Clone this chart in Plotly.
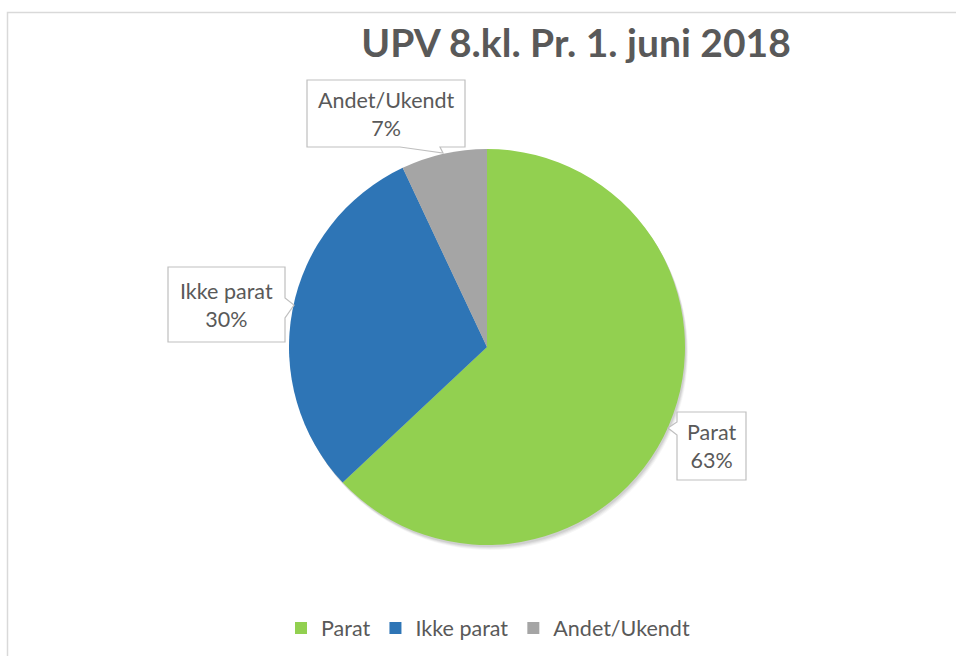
import plotly.graph_objects as go

W, H = 956, 656

categories = ["Parat", "Ikke parat", "Andet/Ukendt"]
values = [63, 30, 7]
colors = ["#92D050", "#2E75B6", "#A5A5A5"]
title_text = "UPV 8.kl. Pr. 1. juni 2018"

TXT = "#595959"
FONT = "Lato"


def px(x):
    return x / W


def py(y):
    return 1 - y / H


# pie geometry (pixels)
cx, cy, r = 487, 347, 198

fig = go.Figure()
fig.add_trace(go.Pie(
    labels=categories,
    values=values,
    marker=dict(colors=colors, line=dict(width=0)),
    sort=False,
    direction="clockwise",
    rotation=0,
    textinfo="none",
    hoverinfo="label+percent",
    domain=dict(x=[px(cx - r), px(cx + r)], y=[py(cy + r), py(cy - r)]),
))

shapes = []
# outer chart border
shapes.append(dict(type="rect", xref="paper", yref="paper",
                   x0=px(7.5), x1=1.05, y0=-0.05, y1=py(12.5),
                   line=dict(color="#D9D9D9", width=1.5), fillcolor="rgba(0,0,0,0)",
                   layer="below"))
# soft shadow under pie
for off, a in [(5, 0.035), (4, 0.045), (3, 0.055), (2, 0.065)]:
    shapes.append(dict(type="circle", xref="paper", yref="paper",
                       x0=px(cx - r + off * 0.6), x1=px(cx + r + off * 0.6),
                       y0=py(cy + r + off), y1=py(cy - r + off),
                       line=dict(width=0), fillcolor=f"rgba(0,0,0,{a})",
                       layer="below"))


def callout(pts):
    d = "M " + " L ".join(f"{px(x):.5f},{py(y):.5f}" for x, y in pts) + " Z"
    return dict(type="path", xref="paper", yref="paper", path=d,
                line=dict(color="#BFBFBF", width=1.2), fillcolor="white", layer="above")


callouts = {
    "Andet/Ukendt": [(307, 80), (465, 80), (465, 147), (440, 147), (443, 153), (400, 147), (307, 147)],
    "Ikke parat": [(168, 267), (285, 267), (285, 298), (294, 305), (285, 318), (285, 342), (168, 342)],
    "Parat": [(677, 412), (746, 412), (746, 480), (677, 480), (677, 435), (668, 428), (677, 422)],
}
label_centers = {
    "Andet/Ukendt": (386, 114),
    "Ikke parat": (226, 305),
    "Parat": (711, 446),
}

annotations = []
total = sum(values)
for cat, v in zip(categories, values):
    shapes.append(callout(callouts[cat]))
    x, y = label_centers[cat]
    annotations.append(dict(
        xref="paper", yref="paper", x=px(x), y=py(y), xanchor="center", yanchor="middle",
        text=f"{cat}<br>{round(100 * v / total)}%", showarrow=False, align="center",
        font=dict(family=FONT, size=21.5, color=TXT),
    ))

fig.update_layout(
    width=W, height=H,
    margin=dict(l=0, r=0, t=0, b=0),
    paper_bgcolor="white",
    plot_bgcolor="white",
    title=dict(text=f"<b>{title_text}</b>", x=px(576), y=py(43), xanchor="center", yanchor="middle",
               font=dict(family=FONT, size=39, color=TXT)),
    showlegend=True,
    legend=dict(orientation="h", x=px(488), y=py(628), xanchor="center", yanchor="middle",
                font=dict(family=FONT, size=21.5, color=TXT), traceorder="normal",
                bgcolor="rgba(0,0,0,0)"),
    shapes=shapes,
    annotations=annotations,
)

fig.write_html("out.html", config={"displayModeBar": False},
               post_script="document.body.style.margin='0';document.body.style.overflow='hidden';")
